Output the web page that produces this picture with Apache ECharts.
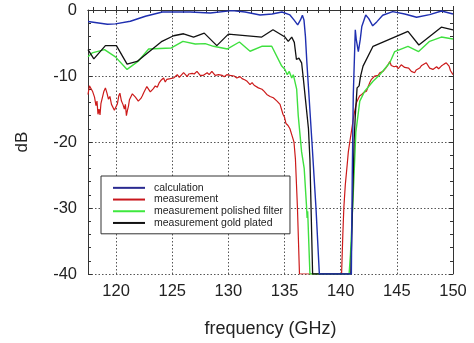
<!DOCTYPE html>
<html>
<head>
<meta charset="utf-8">
<script src="https://cdn.jsdelivr.net/npm/echarts@6/dist/echarts.min.js"></script>
<style>
html,body{margin:0;padding:0;background:#fff;}
#chart{width:474px;height:343px;}
</style>
</head>
<body>
<div id="chart"></div>
<script>
// ---- data ----
const seriesNames = ['calculation', 'measurement', 'measurement polished filter', 'measurement gold plated'];
const freqLabels = [120, 125, 130, 135, 140, 145, 150];
const freqMinorTicks = [118,119,120,121,122,123,124,125,126,127,128,129,130,131,132,133,134,135,136,137,138,139,140,141,142,143,144,145,146,147,148,149,150];

const calcFreq = [117.5,119.23,119.94,121.27,122.61,124.12,126.6,128.38,130.33,131.49,132.82,133.89,134.77,135.48,135.84,136.17,136.42,136.59,136.73,136.86,136.99,137.44,137.8,138.1,140.95,141.03,141.12,141.3,141.39,141.57,141.74,141.88,142.23,142.5,142.85,143.21,143.74,144.63,145.7,146.76,147.92,148.98,150];
const calcDb   = [-1.75,-2.15,-2.1,-1.7,-0.95,-0.3,-0.3,-0.45,-0.1,-0.3,-0.75,-0.6,-0.3,-0.75,-1.5,-2.25,-1.5,-0.8,-1.5,-4,-8,-20,-30,-40,-40,-25,-13,-3,-4.5,-6.3,-4.5,-2.5,-0.75,-1.3,-2.4,-1.8,-0.8,-0.25,-0.6,-1.1,-0.7,-0.15,-0.6];

const measFreq = [117.5,117.63,117.72,117.9,118.08,118.21,118.3,118.39,118.48,118.57,118.65,118.79,118.92,119.05,119.19,119.32,119.45,119.59,119.72,119.85,119.99,120.12,120.24,120.34,120.48,120.61,120.74,120.83,120.92,121.01,121.1,121.19,121.32,121.45,121.57,121.72,121.87,121.98,122.07,122.21,122.34,122.47,122.61,122.74,122.9,123.05,123.2,123.32,123.49,123.67,123.85,124.03,124.23,124.38,124.52,124.68,124.83,124.96,125.12,125.27,125.45,125.63,125.8,126.01,126.16,126.34,126.47,126.6,126.78,126.96,127.2,127.36,127.49,127.62,127.78,127.94,128.11,128.29,128.53,128.69,128.82,128.97,129.13,129.27,129.44,129.62,129.86,130.02,130.16,130.33,130.51,130.75,130.91,131.04,131.22,131.34,131.49,131.67,131.93,132.11,132.29,132.46,132.67,132.82,132.99,133.17,133.42,133.57,133.71,133.84,134.0,134.15,134.33,134.46,134.6,134.73,134.86,134.99,135.13,135.31,135.48,135.66,135.84,135.97,136.15,136.33,140.08,140.19,140.28,140.41,140.57,140.68,140.81,140.99,141.17,141.41,141.57,141.7,141.88,142.06,142.29,142.45,142.59,142.74,142.9,143.03,143.18,143.34,143.48,143.77,143.92,144.06,144.21,144.37,144.5,144.63,144.76,144.96,145.12,145.25,145.39,145.52,145.7,145.87,146.05,146.29,146.45,146.58,146.72,146.85,147.03,147.21,147.38,147.62,147.78,147.92,148.05,148.21,148.36,148.54,148.72,148.96,149.07,149.2,149.4,149.52,149.65,149.78,150];
const measDb   = [-12.8,-11.5,-11.2,-12.3,-13.2,-14.5,-13.8,-15.8,-15.0,-15.9,-14.2,-13.2,-12.3,-11.8,-12.6,-13.5,-13.1,-14.3,-14.0,-15.2,-15.4,-14.2,-13.0,-12.6,-13.8,-14.3,-15.0,-14.3,-16.0,-15.2,-14.6,-13.6,-13.3,-12.7,-12.5,-13.2,-13.5,-13.8,-14.1,-13.4,-13.0,-12.5,-12.3,-11.6,-11.5,-12.4,-12.5,-11.9,-11.5,-11.7,-11.0,-10.6,-10.3,-10.9,-10.5,-10.8,-10.4,-10.6,-10.3,-10.1,-9.8,-10.2,-9.9,-9.5,-9.8,-10.1,-9.7,-10.0,-9.6,-9.7,-9.3,-9.6,-9.9,-9.7,-9.9,-9.6,-9.5,-9.8,-9.3,-9.6,-9.9,-10.0,-9.8,-9.6,-9.9,-10.1,-9.8,-9.9,-9.9,-10.2,-10.0,-10.3,-10.1,-10.1,-10.4,-10.3,-10.6,-10.8,-11.3,-11.0,-11.4,-11.5,-11.8,-11.6,-12.0,-12.3,-12.8,-12.7,-13.1,-13.0,-13.3,-13.4,-13.8,-13.9,-14.3,-14.6,-15.8,-16.2,-17.2,-17.5,-18,-19,-20,-22.6,-30,-40,-40,-34,-30,-26.5,-23.6,-21.5,-20,-18,-16,-14,-13.4,-13,-12.8,-12.5,-12.3,-11.6,-11.0,-10.5,-10.6,-10.0,-9.8,-9.9,-9.5,-9.3,-9.0,-8.7,-8.3,-7.8,-8.4,-8.1,-8.6,-8.5,-8.9,-8.6,-8.3,-8.3,-8.7,-9.0,-8.8,-9.3,-9.0,-9.5,-9.1,-8.9,-8.8,-8.4,-8.6,-8.0,-8.3,-8.8,-8.6,-9.0,-8.8,-8.6,-8.9,-8.5,-8.4,-8.2,-8.0,-8.3,-8.5,-9.2,-9.8];

const polishFreq = [117.5,117.87,118.97,119.94,120.98,122.01,122.9,124.92,125.95,127.05,127.94,128.67,129.92,130.98,131.93,132.97,133.86,134.75,135.04,135.24,135.42,135.64,135.78,136.08,136.22,136.52,136.75,136.95,137.01,137.06,137.26,140.75,140.87,141.1,141.35,141.7,142.14,142.88,143.48,144.37,144.81,145.99,146.94,147.92,148.96,150];
const polishDb   = [-7.1,-6.5,-6.0,-7.1,-9.0,-7.7,-5.9,-5.75,-4.75,-5.15,-5.1,-5.5,-5.9,-4.85,-6.25,-5.5,-5.5,-8.5,-9.0,-9.8,-9.3,-10.3,-9.8,-12,-16,-21.5,-24,-29.5,-31.5,-30.5,-40,-40,-37,-28.6,-18.5,-13.8,-12.3,-10.8,-9.8,-8,-6.3,-5.5,-6.3,-4.75,-4.1,-4.4];

const goldFreq = [117.5,118.02,119.05,120.03,120.98,121.87,124.09,125.12,126.01,126.9,127.85,128.97,130.0,132.97,133.97,135.04,135.33,135.64,135.87,136.06,136.28,136.52,136.68,136.86,137.13,137.26,137.5,140.9,141.05,141.19,141.3,141.46,141.64,141.76,141.99,142.88,145.99,146.96,148.96,150];
const goldDb   = [-6,-7.4,-5.4,-5.4,-8.2,-7.8,-4.75,-3.9,-3.6,-4.1,-3.5,-5.4,-3.65,-4.1,-3.0,-4.1,-4.75,-4.1,-4.9,-7.5,-7.3,-8,-10.5,-13.5,-18,-22.6,-40,-40,-30,-20,-16,-11.8,-11.5,-10.1,-8.5,-5.5,-3.25,-5.3,-2.6,-3.0];

function zip(xs, ys) { return xs.map((x, i) => [x, ys[i]]); }

const FONT = "'Liberation Sans', Arial, sans-serif";
const chart = echarts.init(document.getElementById('chart'), null, { renderer: 'canvas' });

const axisLineStyle = { color: '#333', width: 1 };
const gridDots = { color: '#555', width: 1, type: [1.5, 2] };

chart.setOption({
  animation: false,
  backgroundColor: '#fff',
  textStyle: { fontFamily: FONT },
  grid: { left: 88, right: 21, top: 10, bottom: 67, containLabel: false },
  legend: {
    orient: 'vertical',
    left: 101, top: 176,
    backgroundColor: '#fff',
    borderColor: '#333', borderWidth: 1, borderRadius: 0,
    padding: [6, 7, 5, 12],
    itemWidth: 32, itemHeight: 2, itemGap: 0,
    icon: 'rect',
    textStyle: { fontSize: 10.5, color: '#222', fontFamily: FONT, lineHeight: 11.7, padding: [0, 0, 0, 4] },
    data: seriesNames
  },
  xAxis: [
    {
      type: 'value', min: 117.5, max: 150, position: 'bottom',
      name: 'frequency (GHz)', nameLocation: 'middle', nameGap: 46,
      nameTextStyle: { fontSize: 18, color: '#222', fontFamily: FONT },
      axisLine: { show: true, lineStyle: axisLineStyle },
      axisTick: { show: true, inside: true, length: 4, customValues: freqLabels, lineStyle: axisLineStyle },
      axisLabel: { show: true, customValues: freqLabels, fontSize: 16.5, color: '#222', margin: 9, fontFamily: FONT },
      splitLine: { show: true, lineStyle: gridDots }
    },
    {
      type: 'value', min: 117.5, max: 150, position: 'bottom',
      axisLine: { show: false },
      axisTick: { show: true, inside: true, length: 3, customValues: freqMinorTicks, lineStyle: axisLineStyle },
      axisLabel: { show: false },
      splitLine: { show: false }
    },
    {
      type: 'value', min: 117.5, max: 150, position: 'top',
      axisLine: { show: true, lineStyle: axisLineStyle },
      axisTick: { show: true, inside: true, length: 3, customValues: freqMinorTicks, lineStyle: axisLineStyle },
      axisLabel: { show: false },
      splitLine: { show: false }
    }
  ],
  yAxis: [
    {
      type: 'value', min: -40, max: 0, interval: 10, position: 'left',
      name: 'dB', nameLocation: 'middle', nameGap: 57,
      nameTextStyle: { fontSize: 17, color: '#222', fontFamily: FONT },
      axisLine: { show: true, lineStyle: axisLineStyle },
      axisTick: { show: true, inside: true, length: 4, lineStyle: axisLineStyle },
      minorTick: { show: true, splitNumber: 5, length: 3, lineStyle: axisLineStyle },
      axisLabel: { fontSize: 16.5, color: '#222', margin: 11, fontFamily: FONT },
      splitLine: { show: true, lineStyle: gridDots }
    },
    {
      type: 'value', min: -40, max: 0, interval: 10, position: 'right',
      axisLine: { show: true, lineStyle: axisLineStyle },
      axisTick: { show: true, inside: true, length: 4, lineStyle: axisLineStyle },
      minorTick: { show: true, splitNumber: 5, length: 3, lineStyle: axisLineStyle },
      axisLabel: { show: false },
      splitLine: { show: false }
    }
  ],
  series: [
    { name: seriesNames[1], type: 'line', xAxisIndex: 0, yAxisIndex: 0, showSymbol: false, symbol: 'none',
      color: '#c8161c', lineStyle: { width: 1.2, color: '#cc1a1a' }, data: zip(measFreq, measDb) },
    { name: seriesNames[2], type: 'line', xAxisIndex: 0, yAxisIndex: 0, showSymbol: false, symbol: 'none',
      color: '#3ee83e', lineStyle: { width: 1.4, color: '#3fe03f' }, data: zip(polishFreq, polishDb) },
    { name: seriesNames[3], type: 'line', xAxisIndex: 0, yAxisIndex: 0, showSymbol: false, symbol: 'none',
      color: '#111', lineStyle: { width: 1.3, color: '#111' }, data: zip(goldFreq, goldDb) },
    { name: seriesNames[0], type: 'line', xAxisIndex: 0, yAxisIndex: 0, showSymbol: false, symbol: 'none',
      color: '#2a2a90', lineStyle: { width: 1.4, color: '#1f2fb0' }, data: zip(calcFreq, calcDb) }
  ]
});
</script>
</body>
</html>
